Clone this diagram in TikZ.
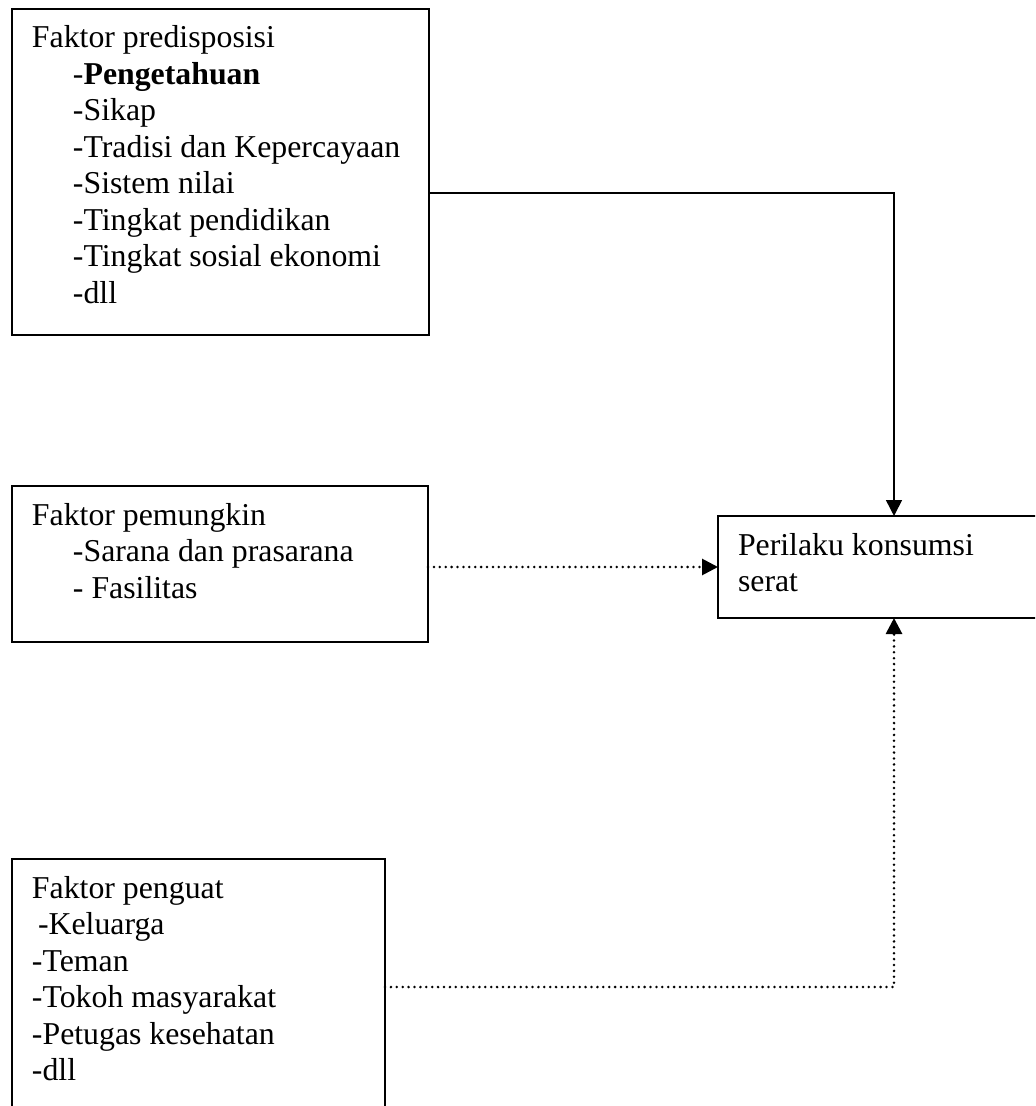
\documentclass[tikz,border=0pt]{standalone}
\usepackage{fontspec}
\setmainfont{Liberation Serif}
\usepackage{tikz}
\usetikzlibrary{arrows.meta}
\usetikzlibrary{calc}

\newcommand{\isikotak}[3]{\parbox[c][#2][t]{#1}{\rule{0pt}{19.5pt}#3}}
\newcommand{\ind}{\hspace*{20.5pt}}

\begin{document}
\begin{tikzpicture}[x=0.5pt,y=-0.5pt,
  kotak/.style={draw, line width=1pt, anchor=north west, inner xsep=10pt, inner ysep=0pt, outer sep=0pt,
    font=\fontsize{15.9pt}{18.25pt}\selectfont},
  panah/.style={line width=0.8pt, -{Triangle[length=8pt,width=8pt]}},
  titik/.style={line width=1.4pt, line cap=round, dash pattern=on 0pt off 2.95pt, -{Triangle[length=8pt,width=8pt]}}]
\useasboundingbox (0,0) rectangle (1035,1106);
\clip (0,0) rectangle (1035,1106);
\node[kotak] (predis) at (12,9) {\isikotak{188.5pt}{163pt}{Faktor predisposisi\\
  \ind-\textbf{Pengetahuan}\\ \ind-Sikap\\ \ind-Tradisi dan Kepercayaan\\ \ind-Sistem nilai\\
  \ind-Tingkat pendidikan\\ \ind-Tingkat sosial ekonomi\\ \ind-dll}};
\node[kotak] (pemung) at (12,486) {\isikotak{188pt}{78pt}{Faktor pemungkin\\
  \ind-Sarana dan prasarana\\ \ind- Fasilitas}};
\node[kotak] (penguat) at (12,859) {\isikotak{166.5pt}{140.5pt}{Faktor penguat\\
  \hspace*{3pt}-Keluarga\\ -Teman\\ -Tokoh masyarakat\\ -Petugas kesehatan\\ -dll}};
\node[kotak] (perilaku) at (718,516) {\isikotak{156pt}{51pt}{Perilaku konsumsi\\ serat}};
% garis penghubung
\coordinate (belok1) at (894,193);
\coordinate (belok2) at (894,987);
\draw[panah] (predis.east |- belok1) -- (belok1) -- (perilaku.north);
\draw[titik] (pemung.east |- perilaku.west) -- (perilaku.west);
\draw[titik] (penguat.east |- belok2) -- (belok2) -- (perilaku.south);
\end{tikzpicture}
\end{document}
